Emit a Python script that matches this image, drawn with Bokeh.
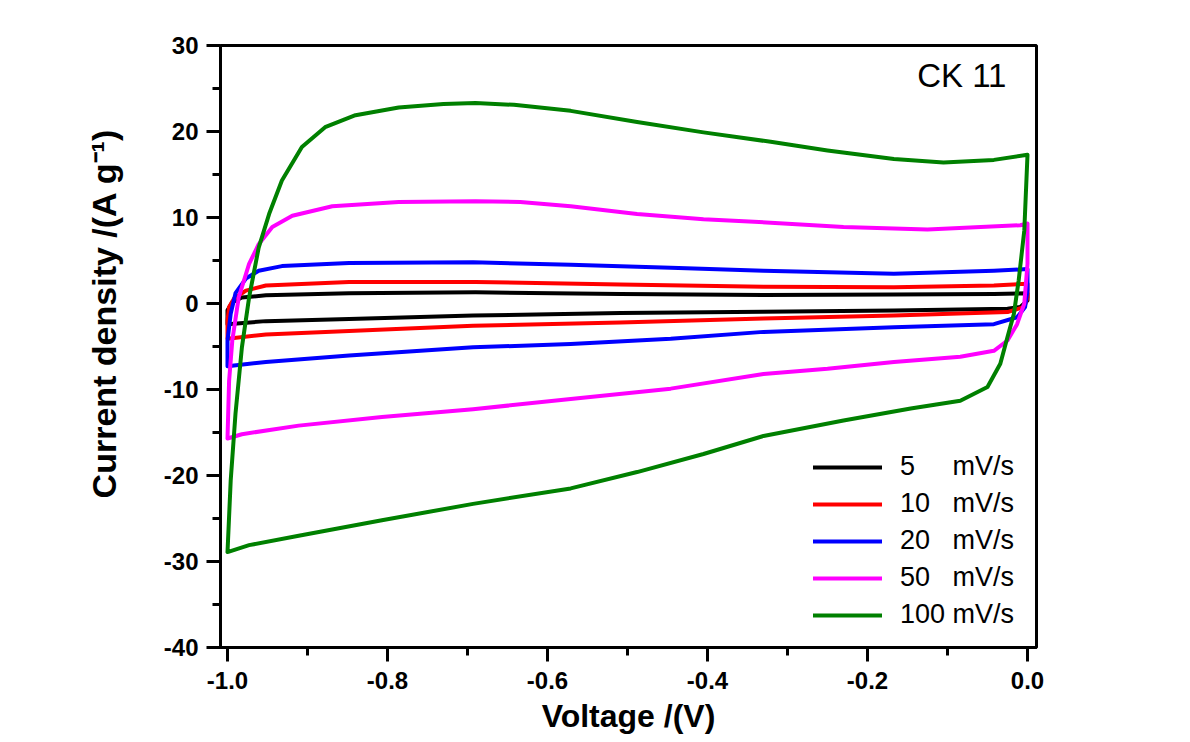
from bokeh.plotting import figure
from bokeh.models import (Range1d, FixedTicker, PrintfTickFormatter, Legend,
                          LegendItem, Label)
from bokeh.embed import file_html
from bokeh.resources import INLINE

# ---- data ----
rates = ["5", "10", "20", "50", "100"]
colors = ["#000000", "#FF0000", "#0000FF", "#FF00FF", "#008000"]

v5 = [-1.000, -1.000, -0.994, -0.982, -0.952, -0.848, -0.690, -0.509, -0.330, -0.167, -0.042, 0.000,
      0.000, -0.009, -0.025, -0.167, -0.330, -0.509, -0.693, -0.848, -0.952, -1.000]
i5 = [-2.4, -0.8, 0.15, 0.7, 0.95, 1.2, 1.3, 1.1, 1.0, 1.05, 1.1, 1.2,
      0.35, -0.4, -0.6, -0.8, -0.95, -1.1, -1.4, -1.8, -2.05, -2.4]

v10 = [-1.000, -1.000, -0.998, -0.992, -0.977, -0.952, -0.848, -0.690, -0.509, -0.330, -0.167, -0.042, 0.000,
       0.000, -0.004, -0.025, -0.167, -0.330, -0.509, -0.693, -0.848, -0.952, -1.000]
i10 = [-4.1, -2.0, -0.4, 0.55, 1.5, 2.1, 2.5, 2.5, 2.2, 1.95, 1.9, 2.1, 2.3,
       0.7, -0.4, -1.0, -1.4, -1.75, -2.2, -2.6, -3.2, -3.6, -4.1]

v20 = [-1.000, -1.000, -0.996, -0.990, -0.977, -0.961, -0.932, -0.848, -0.693, -0.571, -0.446, -0.330, -0.167, -0.042, 0.000,
       0.000, -0.003, -0.013, -0.042, -0.167, -0.330, -0.446, -0.571, -0.693, -0.848, -0.952, -1.000]
i20 = [-7.3, -4.3, -1.2, 1.2, 2.9, 3.8, 4.35, 4.7, 4.8, 4.5, 4.15, 3.8, 3.45, 3.8, 4.0,
       1.5, -0.4, -1.6, -2.4, -2.75, -3.3, -4.1, -4.7, -5.1, -6.05, -6.8, -7.3]

v50 = [-1.000, -0.998, -0.994, -0.986, -0.973, -0.961, -0.944, -0.919, -0.869, -0.786, -0.690, -0.634, -0.571,
       -0.488, -0.405, -0.321, -0.230, -0.125, -0.009, 0.000,
       0.000, -0.004, -0.013, -0.025, -0.042, -0.084, -0.167, -0.250, -0.330, -0.446, -0.571, -0.693, -0.807,
       -0.911, -0.982, -1.000]
i50 = [-15.7, -9.0, -4.3, 0.7, 4.6, 6.9, 8.9, 10.2, 11.3, 11.8, 11.9, 11.8, 11.3,
       10.4, 9.8, 9.4, 8.9, 8.6, 9.1, 9.3,
       4.6, 0.0, -2.4, -4.3, -5.5, -6.2, -6.8, -7.6, -8.2, -9.9, -11.1, -12.3, -13.2,
       -14.2, -15.2, -15.7]

v100 = [-1.000, -0.996, -0.990, -0.982, -0.973, -0.961, -0.948, -0.932, -0.907, -0.878, -0.840, -0.786, -0.730,
        -0.690, -0.642, -0.571, -0.488, -0.405, -0.321, -0.250, -0.167, -0.105, -0.042, 0.000,
        -0.004, -0.011, -0.017, -0.025, -0.034, -0.050, -0.084, -0.146, -0.230, -0.330, -0.405, -0.488,
        -0.571, -0.693, -0.807, -0.911, -0.973, -1.000]
i100 = [-28.9, -20.6, -12.8, -5.1, 0.7, 6.5, 10.4, 14.3, 18.2, 20.5, 21.9, 22.8, 23.2,
        23.3, 23.1, 22.4, 21.1, 19.9, 18.8, 17.8, 16.8, 16.4, 16.7, 17.3,
        8.5, 2.7, -1.2, -3.9, -7.0, -9.7, -11.3, -12.2, -13.6, -15.4, -17.5, -19.6,
        -21.5, -23.3, -25.2, -27.0, -28.1, -28.9]

legend_labels = ["5\u00a0\u00a0\u00a0\u00a0\u00a0mV/s", "10\u00a0\u00a0\u00a0mV/s", "20\u00a0\u00a0\u00a0mV/s",
                 "50\u00a0\u00a0\u00a0mV/s", "100\u00a0mV/s"]
x_ticks = [-1.0, -0.8, -0.6, -0.4, -0.2, 0.0]
x_minor = [-0.9, -0.7, -0.5, -0.3, -0.1]
y_ticks = [-40, -30, -20, -10, 0, 10, 20, 30]
y_minor = [-35, -25, -15, -5, 5, 15, 25]

FONT = "Liberation Sans"

p = figure(width=1190, height=742, output_backend="svg", toolbar_location=None,
           x_range=Range1d(-1.00875, 0.01125), y_range=Range1d(-40, 30),
           min_border_left=220, min_border_right=154, min_border_top=45, min_border_bottom=95)

p.background_fill_color = "white"
p.border_fill_color = "white"
p.xgrid.visible = False
p.ygrid.visible = False
p.outline_line_color = "black"
p.outline_line_width = 3

for ax in (p.xaxis[0], p.yaxis[0]):
    ax.axis_line_width = 3
    ax.axis_line_color = "black"
    ax.major_tick_line_width = 3
    ax.minor_tick_line_width = 3
    ax.major_tick_in = 0
    ax.minor_tick_in = 0
    ax.major_tick_out = 14
    ax.minor_tick_out = 8
    ax.major_label_text_font = FONT
    ax.major_label_text_font_style = "bold"
    ax.major_label_text_font_size = "24px"
    ax.major_label_text_color = "black"

p.xaxis.ticker = FixedTicker(ticks=x_ticks, minor_ticks=x_minor)
p.yaxis.ticker = FixedTicker(ticks=y_ticks, minor_ticks=y_minor)
p.xaxis.formatter = PrintfTickFormatter(format="%.1f")
p.yaxis.formatter = PrintfTickFormatter(format="%d")
p.xaxis.major_label_standoff = 10
p.yaxis.major_label_standoff = 8

p.xaxis.axis_label = "Voltage /(V)"
p.xaxis.axis_label_standoff = 6
p.yaxis.axis_label = "\u00a0" * 7 + "Current density /(A g\u207b\u00b9)"
p.yaxis.axis_label_standoff = 38
for ax in (p.xaxis[0], p.yaxis[0]):
    ax.axis_label_text_font = FONT
    ax.axis_label_text_font_style = "bold"
    ax.axis_label_text_color = "black"
p.xaxis.axis_label_text_font_size = "32px"
p.yaxis.axis_label_text_font_size = "34px"

series = [(v5, i5), (v10, i10), (v20, i20), (v50, i50), (v100, i100)]
items = []
for (vx, iy), c, lab in zip(series, colors, legend_labels):
    r = p.line(vx, iy, line_color=c, line_width=4, line_join="round", line_cap="round")
    items.append(LegendItem(label=lab, renderers=[r]))

legend = Legend(items=items, location=(593, 17), padding=0, margin=0,
                border_line_color=None, background_fill_alpha=0,
                glyph_width=69, glyph_height=30, label_height=30, spacing=6,
                label_standoff=18, label_text_font=FONT, label_text_font_size="27px",
                label_text_color="black")
p.add_layout(legend)

p.add_layout(Label(x=-0.0263, y=24.4, text="CK 11", text_align="right",
                   text_font=FONT, text_font_size="33px", text_color="black"))

open("out.html", "w").write(file_html(p, INLINE))
